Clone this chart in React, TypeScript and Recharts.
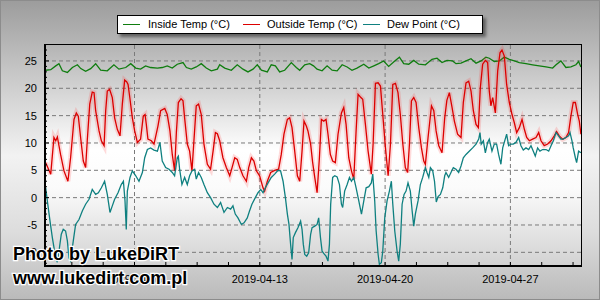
import { LineChart, Line, XAxis, YAxis, CartesianGrid, ReferenceLine } from 'recharts';

// days since 2019-04-01 00:00 and readings (°C)
const insideDays = [0.04, 0.32, 0.6, 0.78, 0.97, 1.25, 1.53, 1.81, 2.0, 2.27, 2.55, 2.83, 3.11, 3.48, 3.85, 4.13, 4.51, 4.79, 5.07, 5.34, 5.62, 5.9, 6.28, 6.55, 6.83, 7.11, 7.39, 7.71, 7.9, 8.17, 8.45, 8.73, 9.01, 9.29, 9.63, 9.76, 10.04, 10.41, 10.74, 11.06, 11.34, 11.62, 11.86, 12.09, 12.42, 12.64, 12.87, 13.11, 13.39, 13.76, 14.04, 14.23, 14.51, 14.79, 15.0, 15.2, 15.48, 15.76, 16.04, 16.32, 16.6, 16.88, 17.15, 17.43, 17.81, 18.09, 18.37, 18.64, 18.92, 19.2, 19.54, 19.8, 20.04, 20.32, 20.6, 20.88, 21.25, 21.62, 21.9, 22.18, 22.46, 22.77, 22.96, 23.24, 23.52, 23.8, 24.08, 24.36, 24.63, 24.82, 25.1, 25.38, 25.66, 25.94, 26.22, 26.5, 26.87, 27.24, 27.61, 27.99, 28.36, 28.55, 28.82, 29.1, 29.38, 29.66, 29.81, 29.94];
const insideTemp = [23.3, 23.4, 24.1, 24.5, 23.2, 22.9, 23.8, 24.3, 23.6, 23.1, 23.6, 24.5, 23.3, 23.2, 24.3, 23.5, 23.8, 24.5, 23.7, 23.5, 24.1, 23.8, 23.7, 23.8, 24.1, 23.7, 24.4, 24.7, 23.8, 23.5, 23.9, 24.5, 23.7, 23.2, 23.5, 24.3, 23.7, 23.3, 24.3, 23.5, 23.0, 23.5, 24.3, 23.3, 23.0, 24.3, 24.1, 23.0, 23.3, 24.7, 23.8, 23.3, 24.3, 24.5, 24.1, 23.5, 23.2, 24.1, 23.3, 23.2, 24.3, 23.9, 23.3, 23.7, 24.4, 23.7, 24.1, 24.5, 25.0, 24.0, 25.0, 25.7, 24.5, 24.4, 25.1, 24.4, 24.3, 25.3, 25.5, 24.7, 25.1, 25.0, 24.5, 24.6, 25.0, 25.4, 24.6, 25.0, 25.7, 25.5, 24.9, 25.0, 25.7, 25.3, 25.0, 24.7, 24.5, 24.3, 24.1, 23.9, 23.7, 24.3, 25.0, 23.8, 23.9, 24.3, 24.9, 23.9];

const outsideDays = [0.04, 0.32, 0.5, 0.6, 0.69, 0.87, 1.06, 1.28, 1.43, 1.62, 1.75, 1.86, 1.99, 2.14, 2.27, 2.36, 2.5, 2.64, 2.74, 2.83, 3.02, 3.15, 3.3, 3.39, 3.48, 3.61, 3.76, 3.89, 4.04, 4.19, 4.32, 4.45, 4.56, 4.64, 4.75, 4.88, 5.01, 5.16, 5.34, 5.49, 5.59, 5.66, 5.75, 5.94, 6.09, 6.31, 6.46, 6.69, 6.83, 6.98, 7.11, 7.24, 7.34, 7.45, 7.6, 7.71, 7.8, 7.95, 8.08, 8.21, 8.32, 8.45, 8.58, 8.73, 8.88, 9.07, 9.25, 9.39, 9.52, 9.63, 9.76, 9.94, 10.13, 10.32, 10.45, 10.6, 10.74, 10.88, 11.06, 11.25, 11.38, 11.53, 11.67, 11.81, 11.99, 12.18, 12.27, 12.42, 12.61, 12.83, 13.05, 13.2, 13.35, 13.54, 13.67, 13.8, 13.95, 14.1, 14.23, 14.36, 14.47, 14.6, 14.69, 14.84, 14.95, 15.07, 15.2, 15.33, 15.44, 15.57, 15.7, 15.81, 15.94, 16.07, 16.22, 16.37, 16.56, 16.69, 16.82, 16.97, 17.12, 17.25, 17.38, 17.49, 17.62, 17.75, 17.9, 18.05, 18.23, 18.33, 18.46, 18.61, 18.74, 18.87, 19.02, 19.17, 19.3, 19.43, 19.58, 19.72, 19.85, 19.99, 20.13, 20.26, 20.36, 20.47, 20.6, 20.73, 20.88, 21.03, 21.16, 21.25, 21.4, 21.59, 21.72, 21.85, 22.0, 22.18, 22.33, 22.45, 22.59, 22.74, 22.87, 23.05, 23.24, 23.37, 23.52, 23.67, 23.8, 23.93, 24.08, 24.21, 24.32, 24.45, 24.6, 24.73, 24.82, 24.91, 25.01, 25.16, 25.29, 25.42, 25.53, 25.66, 25.79, 25.94, 26.09, 26.22, 26.35, 26.5, 26.65, 26.78, 26.91, 27.06, 27.24, 27.43, 27.58, 27.71, 27.89, 28.08, 28.27, 28.45, 28.58, 28.73, 28.92, 29.1, 29.25, 29.38, 29.51, 29.63, 29.76, 29.85, 29.94];
const outsideTemp = [6.4, 4.3, 11.0, 10.4, 11.1, 7.9, 4.9, 3.0, 7.3, 14.3, 15.5, 14.9, 11.0, 6.7, 5.5, 10.4, 17.1, 19.3, 19.2, 15.9, 12.2, 10.4, 9.5, 15.9, 19.5, 19.8, 18.3, 14.6, 12.5, 11.3, 17.1, 21.5, 21.2, 20.7, 18.0, 14.6, 12.2, 10.1, 10.7, 14.9, 15.2, 13.4, 10.7, 10.4, 9.8, 13.1, 15.9, 16.3, 15.2, 12.2, 7.9, 4.9, 12.0, 17.4, 18.1, 17.7, 14.6, 9.8, 8.5, 4.9, 10.4, 16.8, 17.1, 15.2, 9.8, 6.1, 5.2, 8.5, 11.9, 11.7, 10.4, 7.3, 5.5, 4.0, 5.5, 7.3, 7.0, 5.5, 4.0, 3.0, 5.5, 7.3, 6.7, 4.9, 4.0, 1.8, 1.2, 3.0, 4.6, 5.0, 5.2, 7.9, 11.6, 14.3, 14.6, 12.8, 8.5, 4.0, 3.0, 8.5, 14.0, 13.1, 12.2, 9.8, 6.5, 3.7, 0.9, 7.3, 14.3, 14.0, 14.3, 11.6, 7.9, 6.7, 6.4, 11.6, 15.5, 16.5, 13.4, 7.3, 4.9, 3.4, 12.2, 18.9, 18.4, 18.0, 13.4, 8.5, 4.3, 9.8, 20.9, 21.0, 20.4, 15.2, 9.1, 4.0, 9.8, 20.7, 20.9, 19.2, 15.2, 9.8, 5.5, 4.6, 9.8, 17.7, 18.3, 17.4, 12.8, 9.1, 6.7, 6.1, 11.0, 16.8, 15.9, 12.2, 9.5, 8.2, 14.6, 17.8, 19.2, 16.5, 14.0, 11.6, 11.0, 17.4, 21.0, 21.3, 19.5, 15.9, 13.4, 12.8, 20.1, 24.4, 25.1, 24.7, 19.5, 16.8, 18.3, 15.5, 23.2, 26.5, 27.0, 25.9, 20.7, 17.4, 15.2, 13.7, 11.9, 12.8, 14.3, 12.5, 11.0, 10.4, 10.7, 11.0, 11.9, 10.4, 9.5, 9.8, 10.4, 11.3, 12.1, 11.3, 10.7, 11.0, 11.9, 14.9, 17.4, 17.4, 15.2, 14.0, 11.6];

const dewDays = [0.04, 0.13, 0.28, 0.41, 0.5, 0.6, 0.69, 0.78, 0.91, 1.02, 1.15, 1.25, 1.34, 1.43, 1.58, 1.71, 1.9, 2.09, 2.27, 2.46, 2.64, 2.83, 2.98, 3.15, 3.33, 3.48, 3.63, 3.76, 3.89, 4.08, 4.26, 4.38, 4.47, 4.54, 4.6, 4.75, 4.88, 5.07, 5.25, 5.44, 5.57, 5.72, 5.9, 6.09, 6.28, 6.42, 6.55, 6.74, 6.93, 7.11, 7.24, 7.39, 7.45, 7.52, 7.65, 7.8, 7.95, 8.08, 8.21, 8.36, 8.45, 8.58, 8.73, 8.88, 9.07, 9.25, 9.44, 9.63, 9.81, 10.0, 10.19, 10.37, 10.5, 10.63, 10.78, 10.97, 11.12, 11.3, 11.43, 11.56, 11.75, 11.9, 12.05, 12.18, 12.31, 12.46, 12.64, 12.83, 13.02, 13.16, 13.3, 13.43, 13.54, 13.63, 13.72, 13.8, 13.87, 13.99, 14.13, 14.28, 14.36, 14.43, 14.51, 14.62, 14.73, 14.84, 14.92, 15.07, 15.2, 15.29, 15.39, 15.48, 15.57, 15.7, 15.81, 15.89, 15.96, 16.07, 16.19, 16.32, 16.45, 16.56, 16.63, 16.74, 16.88, 17.01, 17.12, 17.25, 17.38, 17.53, 17.68, 17.81, 17.94, 18.09, 18.23, 18.31, 18.42, 18.5, 18.61, 18.68, 18.79, 18.87, 18.98, 19.11, 19.24, 19.35, 19.43, 19.54, 19.67, 19.76, 19.85, 19.95, 20.06, 20.17, 20.28, 20.41, 20.51, 20.6, 20.69, 20.84, 20.97, 21.1, 21.25, 21.34, 21.44, 21.53, 21.66, 21.76, 21.86, 21.96, 22.09, 22.22, 22.33, 22.4, 22.55, 22.68, 22.81, 22.96, 23.11, 23.24, 23.37, 23.52, 23.7, 23.89, 24.08, 24.23, 24.3, 24.37, 24.49, 24.6, 24.73, 24.82, 24.97, 25.1, 25.23, 25.34, 25.47, 25.57, 25.71, 25.79, 25.9, 26.03, 26.16, 26.31, 26.46, 26.59, 26.72, 26.87, 27.02, 27.15, 27.28, 27.39, 27.52, 27.65, 27.8, 27.99, 28.14, 28.27, 28.4, 28.55, 28.69, 28.82, 28.95, 29.1, 29.25, 29.33, 29.44, 29.51, 29.63, 29.7, 29.81, 29.94];
const dewPoint = [1.8, -0.6, -4.3, -7.3, -9.1, -11.0, -11.8, -9.8, -6.7, -5.8, -6.1, -7.9, -11.0, -11.6, -7.9, -4.9, -4.0, -2.4, -1.2, -0.3, 1.5, 0.6, 0.9, 1.8, 3.0, 0.6, -2.7, -1.5, -0.3, 0.9, 2.4, 3.0, -0.6, -5.8, 1.2, 3.7, 4.9, 4.0, 3.0, 4.6, 7.3, 8.8, 9.1, 8.7, 8.5, 10.1, 6.7, 5.5, 5.2, 4.6, 4.0, 7.3, 7.6, 5.2, 2.4, 3.7, 2.4, 4.0, 4.9, 5.2, 3.4, 4.6, 3.7, 2.4, 0.9, 0.0, -1.2, -1.8, -0.9, -2.7, -1.8, -2.1, -1.5, -3.0, -3.7, -4.9, -4.6, -3.7, -2.4, -1.2, 0.0, 0.9, 1.5, 0.9, 1.8, 2.7, 3.7, 4.3, 5.0, 4.9, 3.0, 0.0, -3.0, -4.9, -8.5, -11.3, -7.3, -6.4, -5.5, -4.3, -5.8, -8.5, -10.4, -10.7, -10.1, -6.7, -5.5, -5.2, -4.9, -3.7, -7.3, -9.8, -10.2, -10.7, -11.6, -8.5, -1.2, 3.7, 4.0, 3.8, 2.4, -1.2, -1.8, 1.2, 2.4, 3.7, 3.0, 3.7, 1.8, -0.6, -3.0, -0.6, 1.8, 2.0, 2.7, 4.3, -0.6, -6.1, -10.4, -12.2, -11.9, -9.8, -3.7, -0.6, 1.2, 3.0, -1.2, -6.1, -9.8, -11.6, -8.5, -1.2, 0.6, 1.2, 2.7, 1.2, -2.4, -5.2, -3.0, -0.6, 2.4, 3.7, 5.5, 4.6, 3.7, 5.5, 4.9, 3.0, -0.8, 0.2, 0.6, 1.8, 4.0, 4.6, 3.7, 4.6, 5.5, 5.2, 4.6, 5.8, 7.3, 7.9, 8.5, 9.1, 9.8, 10.7, 11.9, 9.8, 10.4, 8.2, 10.1, 10.7, 8.5, 9.8, 9.8, 7.9, 6.1, 9.1, 10.7, 11.6, 9.5, 9.8, 9.8, 10.1, 11.0, 9.5, 8.7, 9.1, 8.8, 9.5, 8.5, 7.6, 9.1, 8.5, 8.8, 8.8, 8.5, 9.5, 10.4, 11.9, 11.3, 10.7, 10.7, 11.0, 11.3, 11.9, 10.4, 9.1, 7.3, 6.4, 8.5, 8.2];

const dateTicks = [5, 12, 19, 26];
const dateLabels = ['2019-04-06', '2019-04-13', '2019-04-20', '2019-04-27'];
const dayTicks = [1.5, 3.25, 5, 6.75, 8.5, 10.25, 12, 13.75, 15.5, 17.25, 19, 20.75, 22.5, 24.25, 26, 27.75, 29.5];
const tempTicks = [-12, -11, -10, -9, -8, -7, -6, -5, -4, -3, -2, -1, 0, 1, 2, 3, 4, 5, 6, 7, 8, 9, 10, 11, 12, 13, 14, 15, 16, 17, 18, 19, 20, 21, 22, 23, 24, 25, 26, 27, 28];
const gridTemps = [-10, -5, 0, 5, 10, 15, 20, 25];

const toPoints = (days: number[], vals: number[]) => days.map((t, i) => ({ t, v: vals[i] }));
const insideData = toPoints(insideDays, insideTemp);
const outsideData = toPoints(outsideDays, outsideTemp);
const dewData = toPoints(dewDays, dewPoint);

const FONT = '"Liberation Sans", Arial, sans-serif';
const GREEN = '#0f7d0f';
const RED = '#dc0000';
const TEAL = '#0f8080';

function TempTick(props: any) {
  const { x, y, payload } = props;
  const major = payload.value % 5 === 0;
  return (
    <g>
      <line x1={x} x2={x + (major ? 4 : 2)} y1={y} y2={y} stroke="#000" />
      {major && (
        <text x={x - 8} y={y + 4} textAnchor="end" fontSize={11} fontFamily={FONT} fill="#000">
          {payload.value}
        </text>
      )}
    </g>
  );
}

function DateTick(props: any) {
  const { x, y, payload } = props;
  const idx = dateTicks.indexOf(payload.value);
  return (
    <g>
      <line x1={x} x2={x} y1={y} y2={y - 4} stroke="#000" />
      {idx >= 0 && (
        <text x={x} y={y + 17} textAnchor="middle" fontSize={11} fontFamily={FONT} fill="#000">
          {dateLabels[idx]}
        </text>
      )}
    </g>
  );
}

const legendItems = [
  { name: 'Inside Temp (°C)', color: GREEN, line: 5, text: 30 },
  { name: 'Outside Temp (°C)', color: RED, line: 125, text: 149 },
  { name: 'Dew Point (°C)', color: TEAL, line: 245, text: 269 },
];

export default function App() {
  return (
    <div
      style={{
        position: 'absolute',
        left: 0,
        top: 0,
        width: 600,
        height: 300,
        overflow: 'hidden',
        fontFamily: FONT,
        background: 'linear-gradient(180deg, #9c9c9c 0%, #c8c8c8 25%, #f2f2f2 52%, #dcdcdc 78%, #bababa 100%)',
      }}
    >
      <LineChart width={600} height={300} margin={{ top: 44, right: 18, bottom: 0, left: 0 }}>
        <defs>
          <linearGradient id="plotBg" x1="0" y1="0" x2="0" y2="1">
            <stop offset="0%" stopColor="#b3b3b3" />
            <stop offset="48%" stopColor="#ffffff" />
            <stop offset="65%" stopColor="#fbfbfb" />
            <stop offset="100%" stopColor="#d2d2d2" />
          </linearGradient>
        </defs>
        <CartesianGrid horizontal={false} vertical={false} fill="url(#plotBg)" />
        <XAxis
          type="number"
          dataKey="t"
          domain={[0, 30]}
          ticks={dayTicks}
          interval={0}
          height={34}
          tickSize={0}
          tickMargin={0}
          axisLine={false}
          tickLine={false}
          tick={<DateTick />}
          allowDataOverflow
        />
        <YAxis
          type="number"
          domain={[-12.5, 28.1]}
          ticks={tempTicks}
          interval={0}
          width={45}
          tickSize={0}
          tickMargin={0}
          axisLine={false}
          tickLine={false}
          tick={<TempTick />}
          allowDataOverflow
        />
        {gridTemps.map(v => (
          <ReferenceLine key={'h' + v} y={v} stroke="#7a7a7a" strokeDasharray="4 3" />
        ))}
        {dateTicks.map(d => (
          <ReferenceLine key={'v' + d} x={d} stroke="#7a7a7a" strokeDasharray="4 3" />
        ))}
        <Line data={insideData} dataKey="v" type="linear" stroke={GREEN} strokeWidth={1.3} dot={false} isAnimationActive={false} />
        <Line data={outsideData} dataKey="v" type="linear" stroke="#ff2020" strokeOpacity={0.16} strokeWidth={5} dot={false} isAnimationActive={false} />
        <Line data={outsideData} dataKey="v" type="linear" stroke={RED} strokeWidth={1.3} dot={false} isAnimationActive={false} />
        <Line data={dewData} dataKey="v" type="linear" stroke={TEAL} strokeWidth={1.3} dot={false} isAnimationActive={false} />
      </LineChart>

      {/* plot frame */}
      <div
        style={{
          position: 'absolute',
          left: 44,
          top: 44,
          width: 538,
          height: 223,
          boxSizing: 'border-box',
          borderTop: '1px solid #000',
          borderRight: '1px solid #000',
          borderLeft: '2px solid #000',
          borderBottom: '2px solid #000',
          pointerEvents: 'none',
        }}
      />

      {/* legend */}
      <div
        style={{
          position: 'absolute',
          left: 117,
          top: 15,
          width: 366,
          height: 19,
          boxSizing: 'border-box',
          background: '#fff',
          border: '1px solid #000',
          boxShadow: '3px 3px 3px rgba(0,0,0,0.45)',
          fontSize: 11,
          color: '#000',
        }}
      >
        {legendItems.map(it => (
          <div key={it.name}>
            <div style={{ position: 'absolute', left: it.line, top: 8, width: 17, height: 1, background: it.color }} />
            <div style={{ position: 'absolute', left: it.text, top: 2, lineHeight: '13px', whiteSpace: 'nowrap' }}>{it.name}</div>
          </div>
        ))}
      </div>

      {/* watermark */}
      <svg width={600} height={300} style={{ position: 'absolute', left: 0, top: 0, pointerEvents: 'none' }}>
        <g fontFamily={FONT} fontWeight="bold" fontSize={18} fill="#000" stroke="#fff" strokeWidth={2.5} style={{ paintOrder: 'stroke' }}>
          <text x={13} y={260}>Photo by LukeDiRT</text>
          <text x={13} y={284}>www.lukedirt.com.pl</text>
        </g>
      </svg>

      <div style={{ position: 'absolute', left: 0, top: 0, width: 600, height: 300, boxSizing: 'border-box', border: '1px solid #8c8c8c', pointerEvents: 'none' }} />
    </div>
  );
}
